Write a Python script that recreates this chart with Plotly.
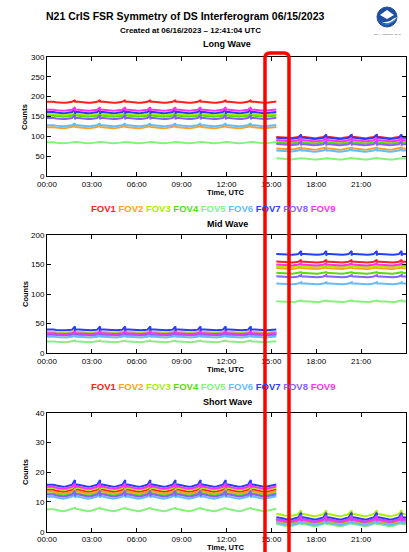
import numpy as np
import plotly.graph_objects as go

# ---------------- data ----------------
fov_names = ["FOV1", "FOV2", "FOV3", "FOV4", "FOV5", "FOV6", "FOV7", "FOV8", "FOV9"]
fov_colors = ["#ff2020", "#ffa020", "#aaee00", "#55dd10", "#88f080",
              "#66bbff", "#2a3cff", "#8860ff", "#ff30ff"]

step_hour = 15.33                      # time of the level change (UTC hours)
spike_hours_a = [1.87, 3.55, 5.23, 6.91, 8.59, 10.27, 11.95, 13.63]
spike_hours_b = [16.99, 18.67, 20.37, 22.05, 23.71]
ripple = [1.0, 0.7, 0.0, -0.7, -1.0, -0.7, 0.0, 0.7]   # orbital wiggle (relative)
sample_step = 0.21                     # hours between samples

# levels per FOV: before / after the step
lw_a = [186, 122, 155, 151, 84, 127, 160, 145, 166]
lw_b = [97, 68, 86, 83, 43, 63, 95, 79, 89]
mw_a = [34, 30, 35, 31, 19, 27, 39, 31, 33]
mw_b = [154, 143, 146, 135, 87, 117, 167, 129, 149]
sw_a = [13.8, 13.2, 14.4, 12.6, 7.3, 11.5, 15.5, 12.2, 14.8]
sw_b = [3.3, 3.0, 5.6, 3.5, 2.2, 2.6, 4.5, 3.9, 3.7]

# wiggle and spike amplitudes (counts)
lw_ripple_amp, mw_ripple_amp, sw_ripple_amp = 1.6, 0.9, 0.4
lw_spike = [4, 2, 3, 3, 1, 4, 8, 7, 6]
mw_spike = [3, 1, 1, 1, 1, 2, 5, 2, 2]
sw_spike = [0.8, 0.5, 1.2, 0.8, 0.3, 0.8, 1.5, 1.2, 1.0]

x_tickvals = [0, 3, 6, 9, 12, 15, 18, 21]
x_ticktext = ["00:00", "03:00", "06:00", "09:00", "12:00", "15:00", "18:00", "21:00"]

# ---------------- layout helpers ----------------
W, H = 409, 552
ML, MR, MT, MB = 47, 3, 57, 20
PW = W - ML - MR
PH = H - MT - MB


def px(x):
    return (x - ML) / PW


def py(y):
    return (H - MB - y) / PH


FONT = "Liberation Sans, Arial, Helvetica, sans-serif"


def build(level_a, level_b, amp, spike_amp):
    xs, ys = [], []
    segs = [(level_a, 0.0, step_hour, spike_hours_a),
            (level_b, step_hour, 24.0, spike_hours_b)]
    for si, (lev, t0, t1, spikes) in enumerate(segs):
        grid = [round(k * sample_step, 3) for k in range(int(24 / sample_step) + 2)
                if t0 <= k * sample_step <= t1]
        ts = sorted(set(grid + [t0, t1] + spikes))
        for t in ts:
            idx = int(round((t - spike_hours_a[0]) / sample_step)) % len(ripple)
            v = lev + amp * ripple[idx]
            if t in spikes:
                xs += [t, t, t]
                ys += [v + spike_amp, v - 0.6 * spike_amp, v]
            else:
                xs.append(t)
                ys.append(v)
        if si == 0:
            xs.append(None)
            ys.append(None)
    return xs, ys


fig = go.Figure()
bands = [
    (lw_a, lw_b, lw_ripple_amp, lw_spike, "x", "y"),
    (mw_a, mw_b, mw_ripple_amp, mw_spike, "x2", "y2"),
    (sw_a, sw_b, sw_ripple_amp, sw_spike, "x3", "y3"),
]
for la, lb, amp, spk, xa, ya in bands:
    for i in range(9):
        xs, ys = build(la[i], lb[i], amp, spk[i])
        fig.add_trace(go.Scatter(x=xs, y=ys, mode="lines", name=fov_names[i],
                                 line=dict(color=fov_colors[i], width=2),
                                 xaxis=xa, yaxis=ya, showlegend=False,
                                 hoverinfo="skip"))

axis_common = dict(showline=True, linecolor="black", linewidth=1, mirror="ticks",
                   ticks="inside", ticklen=4, tickcolor="black", showgrid=False,
                   zeroline=False, automargin=False,
                   tickfont=dict(family=FONT, size=8, color="black"))

xdef = dict(range=[0, 24], tickvals=x_tickvals, ticktext=x_ticktext, domain=[0, 1],
            **axis_common)
fig.update_layout(
    xaxis=dict(anchor="y", **xdef),
    xaxis2=dict(anchor="y2", **xdef),
    xaxis3=dict(anchor="y3", **xdef),
    yaxis=dict(anchor="x", range=[0, 300], dtick=50, domain=[py(176), py(57)], **axis_common),
    yaxis2=dict(anchor="x2", range=[0, 200], dtick=50, domain=[py(353), py(235)], **axis_common),
    yaxis3=dict(anchor="x3", range=[0, 40], dtick=10, domain=[py(531.7), py(412.7)], **axis_common),
)

ann = []


def text(x, y, s, size, bold=True, angle=0, color="black"):
    ann.append(dict(x=px(x), y=py(y), xref="paper", yref="paper", showarrow=False,
                    text=("<b>%s</b>" % s) if bold else s, textangle=angle,
                    font=dict(family=FONT, size=size, color=color),
                    xanchor="center", yanchor="middle"))


text(185, 16, "N21 CrIS FSR Symmetry of DS Interferogram 06/15/2023", 10.5)
text(190, 30, "Created at 06/16/2023 \u2013 12:41:04 UTC", 8)
text(227, 44, "Long Wave", 9)
text(227, 224, "Mid Wave", 9)
text(227, 402, "Short Wave", 9)
for yy in (192.5, 369.5, 547.5):
    text(226, yy, "Time, UTC", 7.5)
for yy in (117, 294, 472):
    text(25, yy, "Counts", 7.5, angle=-90)

legend_html = " ".join('<span style="color:%s">%s</span>' % (c, n)
                       for n, c in zip(fov_names, fov_colors))
for yy in (209, 387):
    text(213, yy, legend_html, 9.5)

text(387, 34, "NOAA / NESDIS / STAR", 2.5, bold=False, color="#555555")
fig.update_layout(annotations=ann)

# red highlight box (rounded top) and NOAA-like logo
xl, xr, yt, yb, r = 265, 289, 53, 575, 5
path = ("M %f,%f L %f,%f Q %f,%f %f,%f L %f,%f Q %f,%f %f,%f L %f,%f" % (
    px(xl), py(yb), px(xl), py(yt + r), px(xl), py(yt), px(xl + r), py(yt),
    px(xr - r), py(yt), px(xr), py(yt), px(xr), py(yt + r), px(xr), py(yb)))
shapes = [dict(type="path", path=path, xref="paper", yref="paper",
               line=dict(color="#ff0000", width=3.5))]
shapes.append(dict(type="circle", xref="paper", yref="paper",
                   x0=px(377), x1=px(397), y0=py(27), y1=py(7),
                   fillcolor="#1f4f9e", line=dict(color="#1f4f9e", width=1)))
shapes.append(dict(type="path", path=("M %f,%f L %f,%f L %f,%f L %f,%f Z" % (
    px(380), py(15), px(387), py(10), px(394), py(15), px(387), py(19))),
    xref="paper", yref="paper", fillcolor="white", line=dict(width=0)))
shapes.append(dict(type="path", path=("M %f,%f Q %f,%f %f,%f Q %f,%f %f,%f Q %f,%f %f,%f Z" % (
    px(377.6), py(19), px(382), py(24), px(390), py(21), px(394), py(18), px(397), py(17),
    px(390), py(29), px(377.6), py(19))),
    xref="paper", yref="paper", fillcolor="white", line=dict(width=0)))
shapes.append(dict(type="path", path=("M %f,%f Q %f,%f %f,%f Q %f,%f %f,%f Z" % (
    px(379), py(22), px(387), py(27), px(396), py(18), px(388), py(30), px(379), py(22))),
    xref="paper", yref="paper", fillcolor="#2a78d0", line=dict(width=0)))
fig.update_layout(shapes=shapes)

fig.update_layout(width=W, height=H, margin=dict(l=ML, r=MR, t=MT, b=MB),
                  paper_bgcolor="white", plot_bgcolor="white", showlegend=False)

fig.write_html("out.html", config={"displayModeBar": False},
               post_script="document.body.style.margin='0';document.body.style.overflow='hidden';")
